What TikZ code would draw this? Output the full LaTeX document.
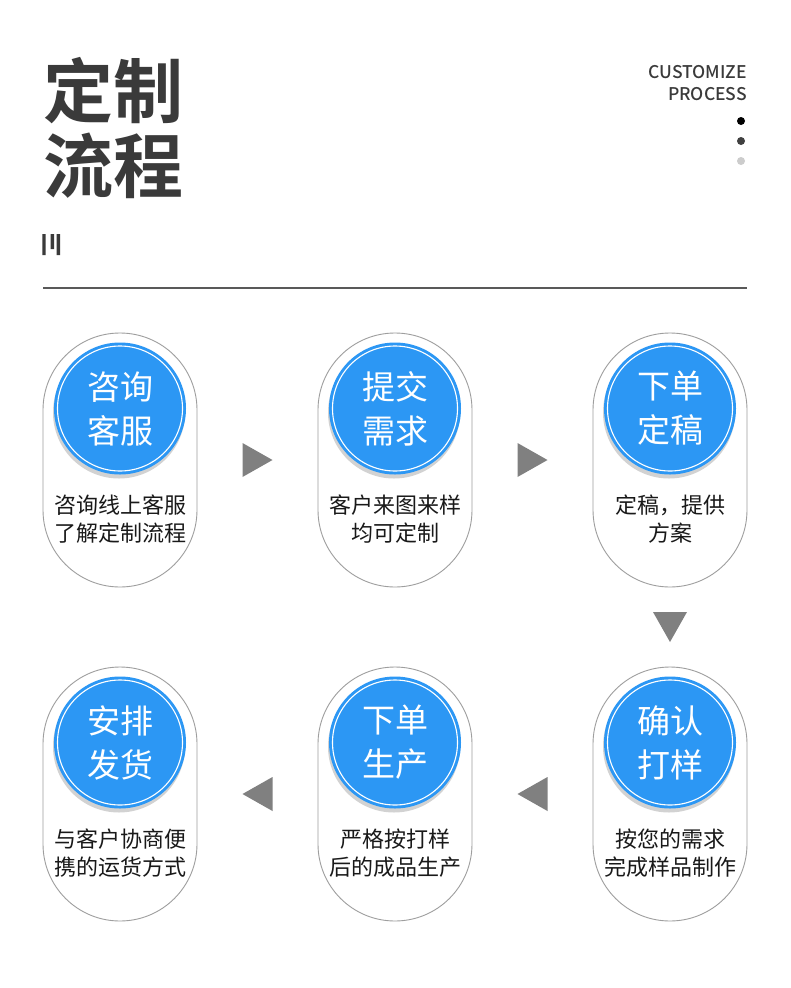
\documentclass[tikz,border=0pt]{standalone}
\usepackage{fontspec}
\setmainfont{Noto Sans CJK SC}[BoldFont={Noto Sans CJK SC Bold}]
\newfontfamily\midfont{Noto Sans CJK SC Medium}
\usetikzlibrary{calc,shadows}
\definecolor{ink}{HTML}{3A3A3A}
\definecolor{ballblue}{HTML}{2C97F4}
\definecolor{rim}{HTML}{9E9E9E}
\definecolor{marker}{HTML}{808080}

\begin{document}
\begin{tikzpicture}[x=1pt,y=-1pt,
    capsule/.style={draw=rim,line width=0.9pt,rounded corners=77pt,
                    minimum width=154pt,minimum height=254pt},
    ball/.style={circle,fill=ballblue,minimum size=132pt,inner sep=0pt,
                 text=white,align=center,font=\fontsize{33}{44}\selectfont,
                 drop shadow={shadow xshift=-1pt,shadow yshift=-4pt,opacity=.35},
                 path picture={\draw[white,line width=1.1pt]
                     (path picture bounding box.center) circle (62.5pt);}},
    note/.style={align=center,text=black!90,font=\fontsize{22}{27.5}\selectfont},
    pointer/.pic={\fill[marker] (-15,-17) -- (15,0) -- (-15,17) -- cycle;}]
    \useasboundingbox[fill=white] (0,0) rectangle (790,988);

    % heading
    \node[anchor=base west,inner sep=0,text=ink,font=\fontsize{70}{75}\selectfont\bfseries]
        (title1) at (43,117) {定制};
    \node[anchor=base west,inner sep=0,text=ink,font=\fontsize{70}{75}\selectfont\bfseries]
        (title2) at (43,192) {流程};
    \fill[ink] (42.3,234) rectangle (45.7,255) (50.7,234) rectangle (54,249)
        (56.5,234) rectangle (60,255);
    \node[anchor=base east,inner sep=0,text=ink,font=\fontsize{17.5}{22}\midfont]
        (en1) at (747,78) {CUSTOMIZE};
    \node[anchor=base east,inner sep=0,text=ink,font=\fontsize{17.5}{22}\midfont]
        (en2) at (747,100) {PROCESS};
    \fill[black] (741,121) circle (4pt);
    \fill[black!75] (741,141) circle (4pt);
    \fill[black!20] (741,161) circle (4pt);
    \draw[black!65,line width=1.2pt] (43,288) -- (747,288);

    % first row
    \node[capsule] (c1) at (120,460) {};
    \node[ball] (b1) at (120,408.5) {咨询\\客服};
    \node[note] (d1) at (120,519) {咨询线上客服\\了解定制流程};

    \node[capsule] (c2) at (395,460) {};
    \node[ball] (b2) at (395,408.5) {提交\\需求};
    \node[note] (d2) at (395,519) {客户来图来样\\均可定制};

    \node[capsule] (c3) at (670,460) {};
    \node[ball] (b3) at (670,408.5) {下单\\定稿};
    \node[note] (d3) at (670,519) {定稿，提供\\方案};

    % second row
    \node[capsule] (c4) at (670,794) {};
    \node[ball] (b4) at (670,742.5) {确认\\打样};
    \node[note] (d4) at (670,853) {按您的需求\\完成样品制作};

    \node[capsule] (c5) at (395,794) {};
    \node[ball] (b5) at (395,742.5) {下单\\生产};
    \node[note] (d5) at (395,853) {严格按打样\\后的成品生产};

    \node[capsule] (c6) at (120,794) {};
    \node[ball] (b6) at (120,742.5) {安排\\发货};
    \node[note] (d6) at (120,853) {与客户协商便\\携的运货方式};

    % step markers
    \pic at ($(c1.east)!.5!(c2.west)$) {pointer};
    \pic at ($(c2.east)!.5!(c3.west)$) {pointer};
    \pic[rotate=-90] at ($(c3.south)!.5!(c4.north)$) {pointer};
    \pic[rotate=180] at ($(c4.west)!.5!(c5.east)$) {pointer};
    \pic[rotate=180] at ($(c5.west)!.5!(c6.east)$) {pointer};
\end{tikzpicture}
\end{document}
